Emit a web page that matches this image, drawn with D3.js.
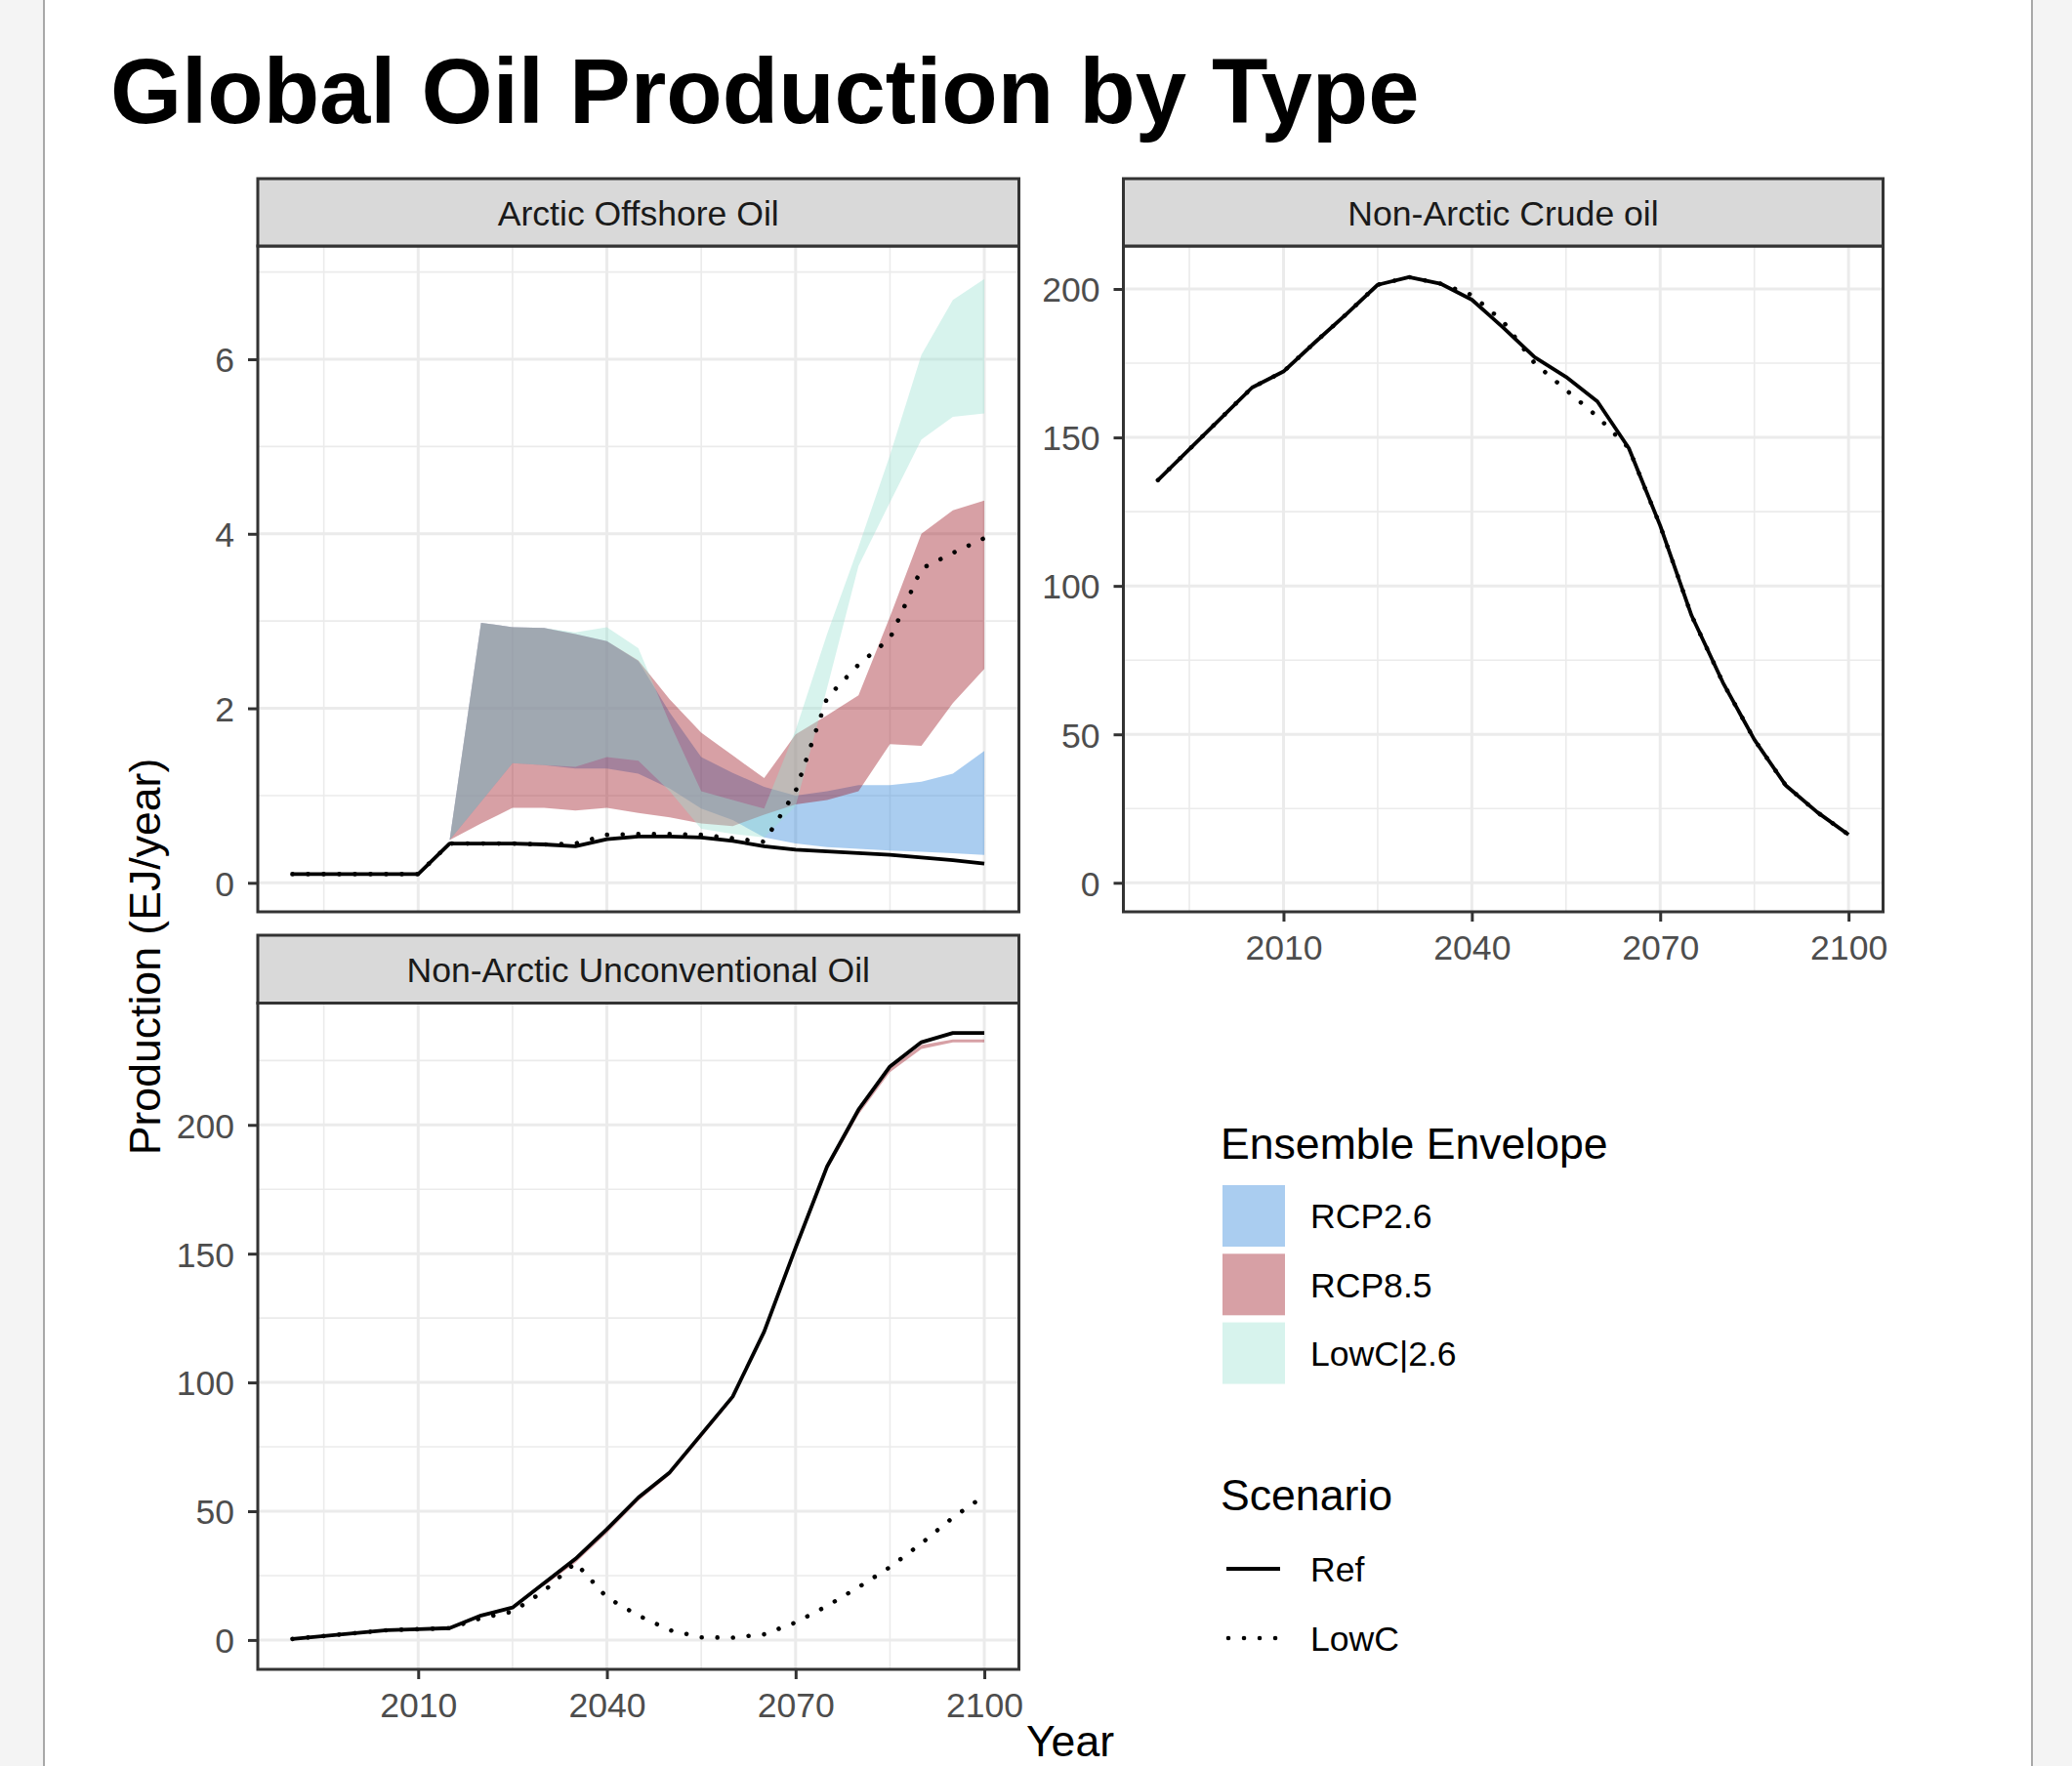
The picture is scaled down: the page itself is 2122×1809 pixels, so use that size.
<!DOCTYPE html>
<html><head><meta charset="utf-8">
<script src="https://cdn.jsdelivr.net/npm/d3@7"></script>
<style>
html,body{margin:0;padding:0;background:#f4f4f4;}
svg{display:block;}
text{font-family:"Liberation Sans", Arial, Helvetica, sans-serif;}
</style></head><body>
<svg id="chart" width="2122" height="1809"></svg>
<script>
// ---------------- DATA ----------------
const years = [1990,2005,2010,2015,2020,2025,2030,2035,2040,2045,2050,2055,2060,2065,2070,2075,2080,2085,2090,2095,2100];
const envYears = [2015,2020,2025,2030,2035,2040,2045,2050,2055,2060,2065,2070,2075,2080,2085,2090,2095,2100];

const facetTitles = ["Arctic Offshore Oil","Non-Arctic Crude oil","Non-Arctic Unconventional Oil"];
const envLabels = ["RCP2.6","RCP8.5","LowC|2.6"];
const scenarioLabels = ["Ref","LowC"];

// Arctic offshore (EJ/year)
const arcticRef  = [0.10,0.10,0.10,0.45,0.45,0.45,0.44,0.42,0.50,0.53,0.53,0.52,0.48,0.42,0.38,0.36,0.34,0.32,0.29,0.26,0.22];
const arcticLowC = [0.10,0.10,0.10,0.45,0.45,0.45,0.44,0.45,0.55,0.56,0.56,0.55,0.51,0.47,1.05,2.12,2.50,2.80,3.60,3.78,3.95];
const arcticRcp26Lo = [0.49,0.93,1.37,1.35,1.31,1.31,1.25,1.08,0.85,0.72,0.52,0.45,0.41,0.39,0.37,0.355,0.34,0.32];
const arcticRcp26Hi = [0.49,2.98,2.93,2.92,2.85,2.77,2.54,1.95,1.44,1.26,1.10,1.00,1.05,1.12,1.12,1.16,1.25,1.51];
const arcticRcp85Lo = [0.49,0.68,0.86,0.86,0.83,0.86,0.80,0.75,0.68,0.65,0.78,0.90,0.95,1.05,1.59,1.57,2.06,2.45];
const arcticRcp85Hi = [0.49,2.98,2.93,2.92,2.85,2.77,2.55,2.10,1.72,1.46,1.20,1.70,1.92,2.15,3.05,4.00,4.27,4.38];
const arcticLowC26Lo = [0.49,0.93,1.37,1.35,1.33,1.44,1.40,1.05,0.62,0.56,0.52,0.88,2.23,3.63,4.36,5.08,5.34,5.38];
const arcticLowC26Hi = [0.49,2.98,2.93,2.92,2.87,2.93,2.69,1.83,1.05,0.95,0.85,1.75,2.85,3.85,4.90,6.05,6.68,6.92];

// Non-Arctic crude
const crudeRef  = [135.6,166.8,172.2,182.0,191.5,201.4,204.0,201.8,196.4,187.0,177.0,170.4,162.1,146.4,120.3,90.0,67.4,48.2,32.8,23.8,16.2];
const crudeLowC = [135.6,166.8,172.2,182.0,191.5,201.4,204.0,201.8,198.0,189.0,175.0,166.0,157.0,146.4,120.3,90.0,67.4,48.2,32.8,23.8,16.2];

// Non-Arctic unconventional
const unconvRef  = [0.4,3.8,4.2,4.6,9.5,12.6,22.0,31.5,43.0,55.3,65.1,79.8,94.5,119.7,152.3,183.8,205.9,222.7,232.1,235.7,235.7];
const unconvLowC = [0.4,3.8,4.2,4.6,8.5,11.0,19.0,30.0,16.5,9.5,3.8,1.0,0.9,2.2,6.8,13.2,20.5,28.3,37.5,47.5,56.0];
const unconvEnvYears = [2030,2035,2040,2045,2050,2055,2060,2065,2070,2075,2080,2085,2090,2095,2100];
const unconvRcp85Lo = [21,30,41.5,54,64,78.5,93.5,118.5,151,182.5,204,220.5,229.5,232,232];
const unconvRcp85Hi = [22,31,42.5,55,65,79.5,94.5,119.5,152,183.5,205.5,222,231,233.2,233.2];

// Axes
const xLimits = [1984.5, 2105.5];
const xTicks = [2010,2040,2070,2100];
const xMinor = [1995,2025,2055,2085];
const arcticLimits = [-0.332, 7.298];
const arcticTicks = [0,2,4,6];
const arcticMinor = [1,3,5,7];
const crudeLimits = [-9.77, 214.47];
const crudeTicks = [0,50,100,150,200];
const crudeMinor = [25,75,125,175];
const unconvLimits = [-11.41, 247.3];
const unconvTicks = [0,50,100,150,200];
const unconvMinor = [25,75,125,175,225];

const envColors = ["#2b82da","#9b121e","#9be1d2"];
const envAlpha = 0.4;

// ---------------- DRAW ----------------
const svg = d3.select("#chart");
const W = 2122, H = 1809;

svg.append("rect").attr("x",0).attr("y",0).attr("width",W).attr("height",H).attr("fill","#f4f4f4");
svg.append("rect").attr("x",45).attr("y",0).attr("width",2081-45).attr("height",H).attr("fill","#ffffff");
svg.append("line").attr("x1",45).attr("x2",45).attr("y1",0).attr("y2",H).attr("stroke","#a8a8a8").attr("stroke-width",2);
svg.append("line").attr("x1",2081).attr("x2",2081).attr("y1",0).attr("y2",H).attr("stroke","#a8a8a8").attr("stroke-width",2);

svg.append("text").attr("x",113).attr("y",126)
  .attr("font-size",94).attr("font-weight","bold").attr("fill","#000")
  .text("Global Oil Production by Type");

const TICK_FS = 35.6, TITLE_FS = 44.6;

function drawPanel(cfg, idx){
  const g = svg.append("g");
  const x = d3.scaleLinear().domain(xLimits).range([cfg.x0, cfg.x1]);
  const y = d3.scaleLinear().domain(cfg.yLimits).range([cfg.bottom, cfg.top]);

  g.append("rect").attr("x",cfg.x0).attr("y",cfg.top).attr("width",cfg.x1-cfg.x0).attr("height",cfg.bottom-cfg.top).attr("fill","#fff");
  const clipId = "clip"+idx;
  svg.append("clipPath").attr("id",clipId).append("rect")
    .attr("x",cfg.x0).attr("y",cfg.top).attr("width",cfg.x1-cfg.x0).attr("height",cfg.bottom-cfg.top);
  const inner = g.append("g").attr("clip-path","url(#"+clipId+")");

  inner.selectAll(null).data(xMinor).enter().append("line")
    .attr("x1",d=>x(d)).attr("x2",d=>x(d)).attr("y1",cfg.top).attr("y2",cfg.bottom)
    .attr("stroke","#ebebeb").attr("stroke-width",1.6);
  inner.selectAll(null).data(cfg.yMinor).enter().append("line")
    .attr("y1",d=>y(d)).attr("y2",d=>y(d)).attr("x1",cfg.x0).attr("x2",cfg.x1)
    .attr("stroke","#ebebeb").attr("stroke-width",1.6);
  inner.selectAll(null).data(xTicks).enter().append("line")
    .attr("x1",d=>x(d)).attr("x2",d=>x(d)).attr("y1",cfg.top).attr("y2",cfg.bottom)
    .attr("stroke","#ebebeb").attr("stroke-width",3);
  inner.selectAll(null).data(cfg.yTicks).enter().append("line")
    .attr("y1",d=>y(d)).attr("y2",d=>y(d)).attr("x1",cfg.x0).attr("x2",cfg.x1)
    .attr("stroke","#ebebeb").attr("stroke-width",3);

  (cfg.ribbons||[]).forEach(r=>{
    const data = r.x.map((yr,i)=>({yr, lo:r.lo[i], hi:r.hi[i]}));
    const area = d3.area().x(d=>x(d.yr)).y0(d=>y(d.lo)).y1(d=>y(d.hi));
    inner.append("path").datum(data).attr("d",area)
      .attr("fill",r.color).attr("fill-opacity",envAlpha).attr("stroke","none");
  });

  (cfg.lines||[]).forEach(l=>{
    const data = l.x.map((yr,i)=>({yr, v:l.y[i]}));
    const line = d3.line().x(d=>x(d.yr)).y(d=>y(d.v));
    const p = inner.append("path").datum(data).attr("d",line)
      .attr("fill","none").attr("stroke","#000");
    if(l.dotted){
      p.attr("stroke-width",4.6).attr("stroke-dasharray","0.01 16").attr("stroke-linecap","round");
    } else {
      p.attr("stroke-width",3.8).attr("stroke-linejoin","round");
    }
  });

  g.append("rect").attr("x",cfg.x0).attr("y",cfg.top).attr("width",cfg.x1-cfg.x0).attr("height",cfg.bottom-cfg.top)
    .attr("fill","none").attr("stroke","#333333").attr("stroke-width",3);

  g.append("rect").attr("x",cfg.x0).attr("y",cfg.stripTop).attr("width",cfg.x1-cfg.x0).attr("height",cfg.top-cfg.stripTop)
    .attr("fill","#d9d9d9").attr("stroke","#333333").attr("stroke-width",3);
  g.append("text").attr("x",(cfg.x0+cfg.x1)/2).attr("y",cfg.stripTop+47.5)
    .attr("text-anchor","middle").attr("font-size",TICK_FS).attr("fill","#1a1a1a").text(cfg.title);

  const ya = g.append("g").attr("transform","translate("+cfg.x0+",0)")
    .call(d3.axisLeft(y).tickValues(cfg.yTicks).tickSize(10).tickPadding(14).tickFormat(d3.format("d")));
  ya.select(".domain").remove();
  ya.selectAll(".tick line").attr("stroke","#333333").attr("stroke-width",3);
  ya.selectAll(".tick text").attr("font-size",TICK_FS).attr("fill","#4d4d4d").attr("dy","0.36em")
    .style("font-family",'"Liberation Sans", Arial, sans-serif');

  if(cfg.showX){
    const xa = g.append("g").attr("transform","translate(0,"+cfg.bottom+")")
      .call(d3.axisBottom(x).tickValues(xTicks).tickSize(10).tickPadding(14).tickFormat(d3.format("d")));
    xa.select(".domain").remove();
    xa.selectAll(".tick line").attr("stroke","#333333").attr("stroke-width",3);
    xa.selectAll(".tick text").attr("font-size",TICK_FS).attr("fill","#4d4d4d")
      .style("font-family",'"Liberation Sans", Arial, sans-serif');
  }
}

const panels = [
  {x0:264, x1:1043.5, stripTop:183, top:252, bottom:934, title:facetTitles[0],
   yLimits:arcticLimits, yTicks:arcticTicks, yMinor:arcticMinor, showX:false,
   ribbons:[
     {x:envYears, lo:arcticRcp26Lo, hi:arcticRcp26Hi, color:envColors[0]},
     {x:envYears, lo:arcticRcp85Lo, hi:arcticRcp85Hi, color:envColors[1]},
     {x:envYears, lo:arcticLowC26Lo, hi:arcticLowC26Hi, color:envColors[2]}
   ],
   lines:[{x:years, y:arcticRef, dotted:false},{x:years, y:arcticLowC, dotted:true}]},
  {x0:1150.5, x1:1928.5, stripTop:183, top:252, bottom:934, title:facetTitles[1],
   yLimits:crudeLimits, yTicks:crudeTicks, yMinor:crudeMinor, showX:true,
   ribbons:[],
   lines:[{x:years, y:crudeRef, dotted:false},{x:years, y:crudeLowC, dotted:true}]},
  {x0:264, x1:1043.5, stripTop:958, top:1027.5, bottom:1710, title:facetTitles[2],
   yLimits:unconvLimits, yTicks:unconvTicks, yMinor:unconvMinor, showX:true,
   ribbons:[{x:unconvEnvYears, lo:unconvRcp85Lo, hi:unconvRcp85Hi, color:envColors[1]}],
   lines:[{x:years, y:unconvRef, dotted:false},{x:years, y:unconvLowC, dotted:true}]}
];
panels.forEach((p,i)=>drawPanel(p,i));

svg.append("text").attr("x",1096).attr("y",1799).attr("text-anchor","middle")
  .attr("font-size",TITLE_FS).attr("fill","#000").text("Year");
svg.append("text").attr("transform","translate(163.5,980) rotate(-90)").attr("text-anchor","middle")
  .attr("font-size",TITLE_FS).attr("fill","#000").text("Production (EJ/year)");

const lg = svg.append("g");
lg.append("text").attr("x",1250).attr("y",1187).attr("font-size",TITLE_FS).attr("fill","#000").text("Ensemble Envelope");
envLabels.forEach((lab,i)=>{
  const ky = 1214 + i*70.3;
  lg.append("rect").attr("x",1252).attr("y",ky).attr("width",64).attr("height",63)
    .attr("fill",envColors[i]).attr("fill-opacity",envAlpha);
  lg.append("text").attr("x",1342).attr("y",ky+31.5+12.8).attr("font-size",TICK_FS).attr("fill","#000").text(lab);
});
lg.append("text").attr("x",1250).attr("y",1547).attr("font-size",TITLE_FS).attr("fill","#000").text("Scenario");
scenarioLabels.forEach((lab,i)=>{
  const cy = 1607 + i*71;
  const ln = lg.append("line").attr("x1",1256).attr("x2",1311).attr("y1",cy).attr("y2",cy).attr("stroke","#000");
  if(i===0){ ln.attr("stroke-width",3.8); }
  else { ln.attr("stroke-width",4.6).attr("stroke-dasharray","0.01 16").attr("stroke-linecap","round").attr("x1",1258); }
  lg.append("text").attr("x",1342).attr("y",cy+12.8).attr("font-size",TICK_FS).attr("fill","#000").text(lab);
});
</script>
</body></html>
